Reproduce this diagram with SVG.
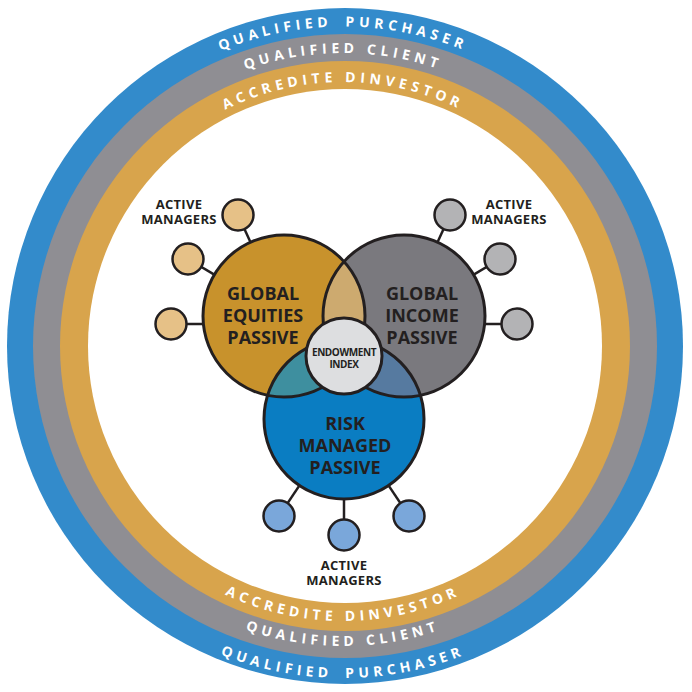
<svg xmlns="http://www.w3.org/2000/svg" xmlns:xlink="http://www.w3.org/1999/xlink" width="692" height="692" viewBox="0 0 692 692">
<style>
.ring{font-family:"Open Sans","DejaVu Sans",sans-serif;font-weight:700;font-size:14px;fill:#ffffff;letter-spacing:4.5px}
.lbl{font-family:"Open Sans","DejaVu Sans",sans-serif;font-weight:700;font-size:18px;fill:#231f20;text-anchor:middle}
.am{font-family:"Open Sans","DejaVu Sans",sans-serif;font-weight:700;font-size:13px;fill:#231f20;text-anchor:middle;letter-spacing:0.3px}
.endo{font-family:"Open Sans","DejaVu Sans",sans-serif;font-weight:700;font-size:10px;fill:#231f20;text-anchor:middle;letter-spacing:-0.4px}
.ol{fill:none;stroke:#231f20;stroke-width:3}
.sat{stroke:#231f20;stroke-width:2.5}
.so{fill:#e6c187}
.sg{fill:#b3b3b5}
.sb{fill:#7aa7da}
.conn line{stroke:#231f20;stroke-width:2.5}
</style>
<defs>
<path id="tBlue" d="M 23.5 346 A 319.5 319.5 0 0 1 662.5 346"/>
<path id="tGray" d="M 50 346 A 293 293 0 0 1 636 346"/>
<path id="tOrange" d="M 79 346 A 264 264 0 0 1 607 346"/>
<path id="bBlue" d="M 11 346 A 332 332 0 0 0 675 346"/>
<path id="bGray" d="M 43 346 A 300 300 0 0 0 643 346"/>
<path id="bOrange" d="M 68 346 A 275 275 0 0 0 618 346"/>
<clipPath id="clipEq"><circle cx="284" cy="316" r="81"/></clipPath>
<clipPath id="clipInc"><circle cx="404" cy="316" r="81"/></clipPath>
</defs>
<rect width="692" height="692" fill="#ffffff"/>
<g id="rings">
<circle cx="345" cy="346" r="338" fill="#338bcb"/>
<circle cx="345" cy="346" r="312" fill="#8f8e93"/>
<circle cx="345" cy="346" r="285" fill="#d8a44c"/>
<circle cx="345" cy="346" r="257" fill="#ffffff"/>
<text class="ring"><textPath xlink:href="#tBlue" href="#tBlue" startOffset="50%" text-anchor="middle">QUALIFIED <tspan dx="5">PURCHASER</tspan></textPath></text>
<text class="ring"><textPath xlink:href="#tGray" href="#tGray" startOffset="50%" text-anchor="middle">QUALIFIED CLIENT</textPath></text>
<text class="ring"><textPath xlink:href="#tOrange" href="#tOrange" startOffset="50%" text-anchor="middle">ACCREDITE DINVESTOR</textPath></text>
<text class="ring"><textPath xlink:href="#bBlue" href="#bBlue" startOffset="50%" text-anchor="middle">QUALIFIED <tspan dx="5">PURCHASER</tspan></textPath></text>
<text class="ring"><textPath xlink:href="#bGray" href="#bGray" startOffset="50%" text-anchor="middle">QUALIFIED CLIENT</textPath></text>
<text class="ring"><textPath xlink:href="#bOrange" href="#bOrange" startOffset="50%" text-anchor="middle">ACCREDITE DINVESTOR</textPath></text>
</g>
<g id="connectors" class="conn">
<line x1="238" y1="215" x2="250.5" y2="242.3"/>
<line x1="188" y1="259" x2="214.3" y2="274.6"/>
<line x1="171" y1="324" x2="203.4" y2="324"/>
<line x1="450" y1="215" x2="437.5" y2="242.3"/>
<line x1="500" y1="259" x2="473.7" y2="274.6"/>
<line x1="517" y1="324" x2="484.6" y2="324"/>
<line x1="279" y1="516" x2="299.5" y2="485.4"/>
<line x1="344" y1="535" x2="344" y2="499"/>
<line x1="409" y1="516" x2="388.5" y2="485.4"/>
</g>
<g id="venn">
<g id="global-equities"><circle cx="284" cy="316" r="81" fill="#c8922c"/></g>
<g id="global-income"><circle cx="404" cy="316" r="81" fill="#7a797e"/></g>
<g id="risk-managed"><circle cx="344" cy="419" r="80" fill="#0a7dc2"/></g>
<g id="overlaps">
<circle cx="404" cy="316" r="81" fill="#cdaa6f" clip-path="url(#clipEq)"/>
<circle cx="344" cy="419" r="80" fill="#3e8f9f" clip-path="url(#clipEq)"/>
<circle cx="344" cy="419" r="80" fill="#567aa0" clip-path="url(#clipInc)"/>
</g>
<circle class="ol" cx="284" cy="316" r="81"/>
<circle class="ol" cx="404" cy="316" r="81"/>
<circle class="ol" cx="344" cy="419" r="80"/>
<text class="lbl" x="263" y="300">GLOBAL</text>
<text class="lbl" x="263" y="322">EQUITIES</text>
<text class="lbl" x="263" y="344">PASSIVE</text>
<text class="lbl" x="422" y="300">GLOBAL</text>
<text class="lbl" x="422" y="322">INCOME</text>
<text class="lbl" x="422" y="344">PASSIVE</text>
<text class="lbl" x="345" y="430">RISK</text>
<text class="lbl" x="345" y="452">MANAGED</text>
<text class="lbl" x="345" y="474">PASSIVE</text>
</g>
<g id="endowment-index">
<circle cx="344" cy="356" r="38" fill="#dddee0" stroke="#231f20" stroke-width="3"/>
<text class="endo" x="344" y="356">ENDOWMENT</text>
<text class="endo" x="344" y="368">INDEX</text>
</g>
<g id="equities-managers">
<circle class="sat so" cx="238" cy="215" r="15.5"/>
<circle class="sat so" cx="188" cy="259" r="15.5"/>
<circle class="sat so" cx="171" cy="324" r="15.5"/>
<text class="am" x="179" y="209">ACTIVE</text>
<text class="am" x="179" y="224">MANAGERS</text>
</g>
<g id="income-managers">
<circle class="sat sg" cx="450" cy="215" r="15.5"/>
<circle class="sat sg" cx="500" cy="259" r="15.5"/>
<circle class="sat sg" cx="517" cy="324" r="15.5"/>
<text class="am" x="509" y="209">ACTIVE</text>
<text class="am" x="509" y="224">MANAGERS</text>
</g>
<g id="risk-managers">
<circle class="sat sb" cx="279" cy="516" r="15.5"/>
<circle class="sat sb" cx="344" cy="535" r="15.5"/>
<circle class="sat sb" cx="409" cy="516" r="15.5"/>
<text class="am" x="344" y="570">ACTIVE</text>
<text class="am" x="344" y="585">MANAGERS</text>
</g>
</svg>
